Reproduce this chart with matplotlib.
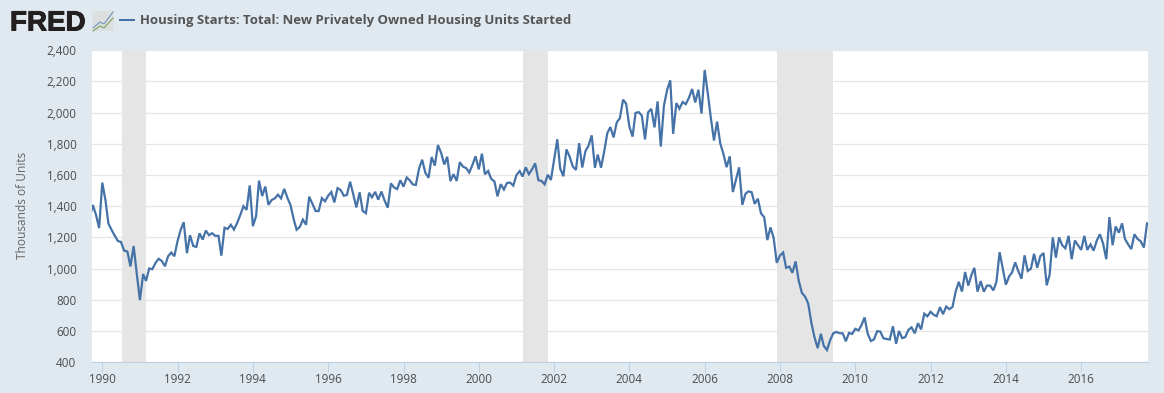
"""FRED housing starts chart, monthly series with recession bands."""
from datetime import date

import matplotlib

matplotlib.use("Agg")
import matplotlib.dates as mdates
import matplotlib.patheffects as pe
import matplotlib.pyplot as plt
from matplotlib.patches import FancyBboxPatch, Rectangle
from matplotlib.ticker import FuncFormatter

W, H = 1164, 393
BG = "#e1e9f0"
LINE = "#4572a7"
TEXT = "#4d4d4d"

TITLE = "Housing Starts: Total: New Privately Owned Housing Units Started"
Y_LABEL = "Thousands of Units"
Y_TICKS = list(range(400, 2401, 200))
X_TICK_YEARS = list(range(1990, 2017, 2))

RECESSIONS = [
    (date(1990, 7, 15), date(1991, 3, 1)),
    (date(2001, 3, 1), date(2001, 11, 1)),
    (date(2007, 12, 1), date(2009, 6, 1)),
]

# first point is Sep 1989, mostly clipped by the left edge
y1989 = [1325, 1408, 1344, 1260]
y1990 = [1551, 1437, 1289, 1248, 1212, 1177, 1171, 1115, 1110, 1014, 1145, 969]
y1991 = [798, 965, 921, 1001, 996, 1036, 1063, 1049, 1015, 1079, 1103, 1079]
y1992 = [1176, 1250, 1297, 1099, 1214, 1145, 1139, 1226, 1186, 1244, 1214, 1227]
y1993 = [1210, 1210, 1083, 1262, 1254, 1281, 1250, 1292, 1344, 1400, 1377, 1533]
y1994 = [1272, 1337, 1564, 1465, 1526, 1409, 1439, 1450, 1474, 1450, 1511, 1455]
y1995 = [1407, 1316, 1249, 1267, 1314, 1281, 1461, 1416, 1369, 1369, 1452, 1431]
y1996 = [1467, 1491, 1424, 1516, 1504, 1467, 1472, 1557, 1475, 1392, 1489, 1370]
y1997 = [1355, 1486, 1457, 1492, 1442, 1494, 1437, 1390, 1546, 1520, 1510, 1566]
y1998 = [1525, 1584, 1567, 1540, 1536, 1641, 1698, 1614, 1582, 1715, 1660, 1792]
y1999 = [1742, 1667, 1717, 1561, 1605, 1562, 1682, 1654, 1644, 1616, 1665, 1720]
y2000 = [1636, 1737, 1604, 1626, 1575, 1559, 1463, 1541, 1507, 1549, 1551, 1532]
y2001 = [1600, 1625, 1590, 1649, 1605, 1636, 1675, 1567, 1562, 1540, 1602, 1568]
y2002 = [1698, 1829, 1642, 1592, 1764, 1717, 1655, 1633, 1804, 1648, 1753, 1788]
y2003 = [1854, 1646, 1731, 1647, 1747, 1868, 1907, 1841, 1938, 1964, 2083, 2057]
y2004 = [1911, 1846, 1998, 2003, 1981, 1828, 2002, 2024, 1905, 2072, 1782, 2042]
y2005 = [2144, 2207, 1864, 2061, 2025, 2068, 2054, 2095, 2151, 2065, 2147, 1994]
y2006 = [2273, 2119, 1969, 1821, 1942, 1802, 1737, 1650, 1720, 1491, 1570, 1649]
y2007 = [1409, 1480, 1495, 1490, 1415, 1448, 1354, 1330, 1183, 1264, 1197, 1037]
y2008 = [1084, 1103, 1005, 1013, 973, 1046, 923, 844, 820, 777, 652, 560]
y2009 = [490, 582, 505, 478, 540, 585, 594, 586, 585, 534, 588, 581]
y2010 = [614, 604, 636, 687, 583, 536, 546, 599, 596, 553, 549, 545]
y2011 = [630, 518, 600, 554, 561, 608, 623, 585, 650, 610, 711, 694]
y2012 = [723, 704, 695, 753, 708, 757, 740, 754, 854, 915, 853, 978]
y2013 = [891, 960, 1005, 852, 920, 852, 891, 891, 860, 915, 1105, 1003]
y2014 = [897, 950, 975, 1040, 985, 935, 1085, 985, 1000, 1095, 1005, 1080]
y2015 = [1100, 893, 960, 1200, 1070, 1200, 1150, 1130, 1210, 1060, 1180, 1150]
y2016 = [1120, 1210, 1120, 1155, 1115, 1180, 1220, 1160, 1060, 1330, 1150, 1270]
y2017 = [1230, 1290, 1190, 1155, 1125, 1220, 1190, 1175, 1135, 1290]

values = (
    y1989 + y1990 + y1991 + y1992 + y1993 + y1994 + y1995 + y1996 + y1997 + y1998
    + y1999 + y2000 + y2001 + y2002 + y2003 + y2004 + y2005 + y2006 + y2007 + y2008
    + y2009 + y2010 + y2011 + y2012 + y2013 + y2014 + y2015 + y2016 + y2017
)
dates = [date(1989 + (8 + i) // 12, (8 + i) % 12 + 1, 1) for i in range(len(values))]

plt.rcParams["font.family"] = ["Open Sans", "DejaVu Sans"]

fig = plt.figure(figsize=(W / 100, H / 100), dpi=100, facecolor=BG)

# plot area in pixels: x 92..1148, y 50.2..362.2
ax = fig.add_axes([92 / W, 1 - 362.2 / H, (1148 - 92) / W, 312 / H])
ax.set_facecolor("white")

for start, end in RECESSIONS:
    ax.axvspan(start, end, color="#e5e5e5", lw=0, zorder=1)
ax.grid(True, axis="y", color="#e6e6e6", lw=0.9, zorder=0)
ax.set_axisbelow(True)
ax.plot(dates, values, color=LINE, lw=1.6, zorder=3, solid_joinstyle="miter")

# 37.65 px per year, 1990 tick sits at x=102.3
ax.set_xlim(
    mdates.date2num(date(1990, 1, 1)) - (102.3 - 92) / 37.65 * 365.25,
    mdates.date2num(date(1990, 1, 1)) + (1148 - 102.3) / 37.65 * 365.25,
)
ax.set_ylim(400, 2400)
ax.set_yticks(Y_TICKS)
ax.yaxis.set_major_formatter(FuncFormatter(lambda v, _: f"{int(v):,}"))
ax.set_xticks([date(y, 1, 1) for y in X_TICK_YEARS])
ax.set_xticklabels([str(y) for y in X_TICK_YEARS])
ax.tick_params(axis="y", length=0, pad=11.2, labelsize=8.4, labelcolor=TEXT)
ax.tick_params(axis="x", length=7, width=0.8, color="#c0d0e0", pad=1, labelsize=8.4, labelcolor=TEXT)
for name in ("top", "left", "right"):
    ax.spines[name].set_visible(False)
ax.spines["bottom"].set_color("#c0d0e0")
ax.spines["bottom"].set_linewidth(0.8)

fig.text(23 / W, 1 - 205.5 / H, Y_LABEL, rotation=90, ha="center", va="center", fontsize=8.6, color="#666666")

# header: logo, icon, legend swatch, title
logo = fig.text(10 / W, 1 - 30.5 / H, "FRED", family=["Liberation Sans"], weight="bold", fontsize=20, color="#231f20", va="baseline")
logo.set_path_effects([pe.withStroke(linewidth=0.7, foreground="#231f20")])
overlay = fig.add_axes([0, 0, 1, 1], facecolor="none")
overlay.set_xlim(0, W)
overlay.set_ylim(H, 0)
overlay.axis("off")
overlay.add_patch(FancyBboxPatch((92.5, 11), 21, 20, boxstyle="round,pad=0,rounding_size=2", fc="#dcdfdf", ec="none"))
overlay.plot([93, 100, 104, 113], [28, 22, 24, 12], color="#6f93b8", lw=0.8)
overlay.plot([93, 100, 104, 113], [31, 26, 28, 18], color="#7ea35a", lw=0.8)
overlay.add_patch(Rectangle((119, 19), 16, 1.6, fc=LINE, ec="none"))
fig.text(140 / W, 1 - 20.5 / H, TITLE, fontsize=9.43, weight="bold", color="#555555", va="center")

fig.savefig("out.png", dpi=100, facecolor=BG)
